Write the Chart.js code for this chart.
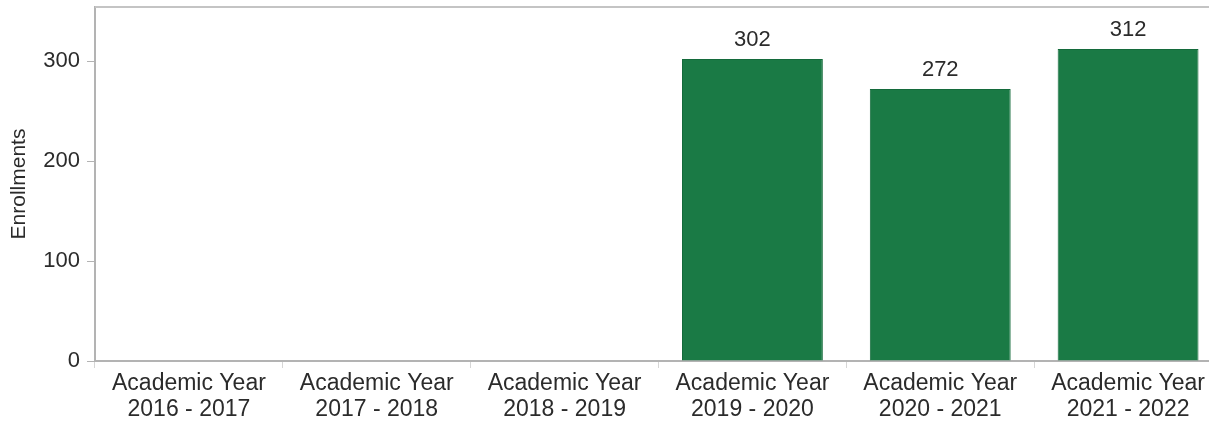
<!DOCTYPE html>
<html>
<head>
<meta charset="utf-8">
<title>Enrollments by Academic Year</title>
<script src="https://cdn.jsdelivr.net/npm/chart.js@4.4.1/dist/chart.umd.min.js"></script>
<style>
  html, body { margin: 0; padding: 0; background: #ffffff; overflow: hidden; }
  #wrap { width: 1224px; height: 425px; }
</style>
</head>
<body>
<div id="wrap"><canvas id="chart" width="1224" height="425"></canvas></div>
<script>
// Academic years shown on the x axis (two-line labels)
const academicYears = [
  ['Academic Year', '2016 - 2017'],
  ['Academic Year', '2017 - 2018'],
  ['Academic Year', '2018 - 2019'],
  ['Academic Year', '2019 - 2020'],
  ['Academic Year', '2020 - 2021'],
  ['Academic Year', '2021 - 2022']
];

// Enrollment counts; earlier years have no reported enrollments
const enrollments = [null, null, null, 302, 272, 312];

// Y axis tick values
const yTicks = [0, 100, 200, 300];
const yMax = 354;

const fontFamily = '"Liberation Sans", Arial, "DejaVu Sans", sans-serif';
const textColor = '#2b2b2b';
const axisColor = '#b3b3b3';

// Value labels above each bar
const barValueLabels = {
  id: 'barValueLabels',
  afterDatasetsDraw(chart) {
    const ctx = chart.ctx;
    const meta = chart.getDatasetMeta(0);
    const data = chart.data.datasets[0].data;
    ctx.save();
    ctx.font = '22px ' + fontFamily;
    ctx.fillStyle = textColor;
    ctx.textAlign = 'center';
    ctx.textBaseline = 'bottom';
    meta.data.forEach((bar, i) => {
      const v = data[i];
      if (v === null || v === undefined) return;
      ctx.fillText(String(v), bar.x, bar.y - 8);
    });
    ctx.restore();
  }
};

// Thin frame line along the top of the plot area
const topFrame = {
  id: 'topFrame',
  beforeDatasetsDraw(chart) {
    const { ctx, chartArea } = chart;
    ctx.save();
    ctx.strokeStyle = '#c4c4c4';
    ctx.lineWidth = 2;
    ctx.beginPath();
    ctx.moveTo(chartArea.left, chartArea.top);
    ctx.lineTo(chartArea.right, chartArea.top);
    ctx.stroke();
    ctx.restore();
  }
};

new Chart(document.getElementById('chart'), {
  type: 'bar',
  data: {
    labels: academicYears,
    datasets: [{
      label: 'Enrollments',
      data: enrollments,
      backgroundColor: '#1a7a45',
      borderColor: '#146a3b',
      borderWidth: 1,
      barPercentage: 0.75,
      categoryPercentage: 1.0
    }]
  },
  options: {
    responsive: false,
    animation: false,
    layout: { padding: { top: 7, right: 2, bottom: 0, left: 0 } },
    plugins: {
      legend: { display: false },
      tooltip: { enabled: false }
    },
    scales: {
      x: {
        offset: true,
        grid: {
          offset: true,
          drawOnChartArea: false,
          drawTicks: true,
          tickLength: 7,
          color: '#d6d6d6'
        },
        border: { display: true, color: axisColor, width: 2 },
        ticks: {
          color: textColor,
          padding: 2,
          maxRotation: 0,
          autoSkip: false,
          font: { family: fontFamily, size: 23, lineHeight: 1.15 }
        },
        afterFit(scale) {
          scale.height = 64;
          scale.paddingLeft = 0;
          scale.paddingRight = 0;
        }
      },
      y: {
        min: 0,
        max: yMax,
        grid: {
          drawOnChartArea: false,
          drawTicks: true,
          tickLength: 8,
          color: axisColor
        },
        border: { display: true, color: axisColor, width: 2 },
        ticks: {
          color: textColor,
          padding: 7,
          font: { family: fontFamily, size: 22 }
        },
        afterBuildTicks(scale) {
          scale.ticks = yTicks.map(v => ({ value: v }));
        },
        title: {
          display: true,
          text: 'Enrollments',
          color: textColor,
          padding: { top: 7, bottom: 0 },
          font: { family: fontFamily, size: 21 }
        },
        afterFit(scale) {
          scale.width = 95;
          scale.paddingTop = 0;
          scale.paddingBottom = 0;
        }
      }
    }
  },
  plugins: [barValueLabels, topFrame]
});
</script>
</body>
</html>
